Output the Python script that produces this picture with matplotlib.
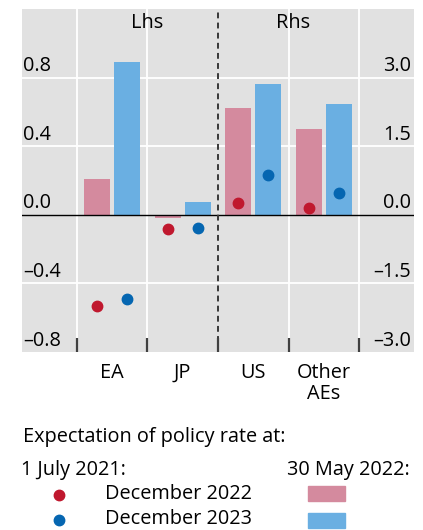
import matplotlib.pyplot as plt
import numpy as np

plt.rcParams['font.family'] = ['Open Sans', 'DejaVu Sans']

categories = ["EA", "JP", "US", "Other\nAEs"]
# 30 May 2022 expectations (bars); EA/JP on lhs, US/Other AEs on rhs
bars_dec22 = [0.21, -0.02, 2.33, 1.87]
bars_dec23 = [0.89, 0.075, 2.85, 2.43]
# 1 July 2021 expectations (dots)
dots_dec22 = [-0.53, -0.08, 0.25, 0.14]
dots_dec23 = [-0.49, -0.075, 0.86, 0.48]
lhs_ticks = [-0.8, -0.4, 0.0, 0.4, 0.8]
rhs_ticks = [-3.0, -1.5, 0.0, 1.5, 3.0]

pink = '#d48a9e'
light_blue = '#6aafe2'
red = '#c0182e'
dark_blue = '#0566b1'
bg = '#e1e1e1'

# right axis values are converted to lhs scale for drawing
scale = 3.0 / 0.8
n_lhs = 2

def to_lhs(vals):
    return [v if i < n_lhs else v / scale for i, v in enumerate(vals)]

fig = plt.figure(figsize=(4.23, 5.30), dpi=100)
ax = fig.add_axes([22 / 423, 1 - 352 / 530, 392 / 423, 343 / 530])
ax.set_facecolor(bg)
for s in ax.spines.values():
    s.set_visible(False)

x = np.arange(len(categories))
offset = 0.21
width = 0.37

ax.bar(x - offset, to_lhs(bars_dec22), width=width, color=pink, zorder=2)
ax.bar(x + offset, to_lhs(bars_dec23), width=width, color=light_blue, zorder=2)
ax.plot(x - offset, to_lhs(dots_dec22), 'o', color=red, markersize=7.5, zorder=3)
ax.plot(x + offset, to_lhs(dots_dec23), 'o', color=dark_blue, markersize=7.5, zorder=3)

ax.set_xlim(-1.28, 4.28)
ax.set_ylim(-0.8, 1.2)

# grid
for yv in [-0.4, 0.4, 0.8]:
    ax.axhline(yv, color='white', lw=1.3, zorder=1)
for xv in [-0.5, 0.5, 2.5, 3.5]:
    ax.axvline(xv, color='white', lw=1.3, zorder=1)
ax.axhline(0, color='black', lw=1.0, zorder=4)
ax.axvline(1.5, color='#383838', lw=1.4, ls=(0, (3, 2.2)), zorder=4)

# bottom tick marks at category boundaries
for xv in [-0.5, 0.5, 1.5, 2.5, 3.5]:
    ax.plot([xv, xv], [-0.8, -0.72], color='#404040', lw=1.6, zorder=5,
            solid_capstyle='butt', clip_on=False)

ax.set_xticks([])
ax.set_yticks([])

# axis labels drawn inside the plot, sitting on the gridlines
fs = 14.3
for t in lhs_ticks:
    ax.text(-1.265, t + 0.008, f"{t:.1f}".replace('-', '\u2013'), ha='left', va='bottom',
            fontsize=fs, zorder=6)
for t, tl in zip(rhs_ticks, lhs_ticks):
    ax.text(4.24, tl + 0.008, f"{t:.1f}".replace('-', '\u2013'), ha='right', va='bottom',
            fontsize=fs, zorder=6)

ax.text(0.5, 1.12, "Lhs", ha='center', va='center', fontsize=fs)
ax.text(2.56, 1.12, "Rhs", ha='center', va='center', fontsize=fs)

for xi, c in zip(x, categories):
    ax.text(xi, -0.865, c, ha='center', va='top', fontsize=fs, linespacing=1.08)

# legend area
fig.text(23 / 423, 1 - 437 / 530, "Expectation of policy rate at:", fontsize=fs, va='center')
fig.text(21 / 423, 1 - 470 / 530, "1 July 2021:", fontsize=fs, va='center')
fig.text(410 / 423, 1 - 470 / 530, "30 May 2022:", fontsize=fs, va='center', ha='right')
fig.text(105 / 423, 1 - 494 / 530, "December 2022", fontsize=fs, va='center')
fig.text(105 / 423, 1 - 519 / 530, "December 2023", fontsize=fs, va='center')
fig.lines.append(plt.Line2D([59 / 423], [1 - 495 / 530], marker='o', color=red,
                            markersize=7.5, transform=fig.transFigure))
fig.lines.append(plt.Line2D([59 / 423], [1 - 520 / 530], marker='o', color=dark_blue,
                            markersize=7.5, transform=fig.transFigure))
fig.patches.append(plt.Rectangle((308 / 423, 1 - 501 / 530), 37 / 423, 15 / 530,
                                 color=pink, transform=fig.transFigure))
fig.patches.append(plt.Rectangle((308 / 423, 1 - 528 / 530), 37 / 423, 15 / 530,
                                 color=light_blue, transform=fig.transFigure))

fig.savefig("out.png", dpi=100)
